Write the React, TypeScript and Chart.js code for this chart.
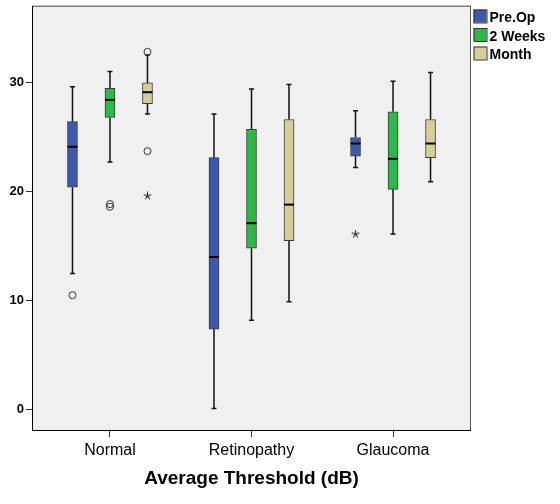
import React, { useEffect, useRef } from 'react';
import { Chart, registerables } from 'chart.js';

Chart.register(...registerables);

// ---- data ----
const categories = ['Normal', 'Retinopathy', 'Glaucoma'];
const seriesNames = ['Pre.Op', '2 Weeks', 'Month'];
const seriesColors = ['#3E58AC', '#2EB848', '#D4CF9A'];
const yTicks = [0, 10, 20, 30];
const xTitle = 'Average Threshold (dB)';

const preOpMin = [12.5, 0.13, 22.2];
const preOpQ1 = [20.4, 7.4, 23.25];
const preOpMedian = [24.1, 14.0, 24.4];
const preOpQ3 = [26.4, 23.1, 24.95];
const preOpMax = [29.6, 27.1, 27.4];

const weeksMin = [22.7, 8.2, 16.1];
const weeksQ1 = [26.8, 14.8, 20.2];
const weeksMedian = [28.4, 17.1, 23.0];
const weeksQ3 = [29.45, 25.7, 27.3];
const weeksMax = [31.0, 29.4, 30.1];

const monthMin = [27.1, 9.9, 20.9];
const monthQ1 = [28.05, 15.5, 23.1];
const monthMedian = [29.1, 18.8, 24.4];
const monthQ3 = [29.95, 26.6, 26.6];
const monthMax = [32.5, 29.8, 30.9];

// outliers: [seriesIndex, categoryIndex, value]
const circleOutliers: [number, number, number][] = [
  [0, 0, 10.5],
  [1, 0, 18.6],
  [1, 0, 18.85],
  [2, 0, 32.8],
  [2, 0, 23.7],
];
const starOutliers: [number, number, number][] = [
  [2, 0, 19.6],
  [0, 2, 16.1],
];

const stats = [
  { min: preOpMin, q1: preOpQ1, med: preOpMedian, q3: preOpQ3, max: preOpMax },
  { min: weeksMin, q1: weeksQ1, med: weeksMedian, q3: weeksQ3, max: weeksMax },
  { min: monthMin, q1: monthQ1, med: monthMedian, q3: monthQ3, max: monthMax },
];

// ---- layout constants ----
const seriesOffsets = [-0.265, 0, 0.265];
const FONT = 'Arial, "Liberation Sans", sans-serif';
const PLOT_BG = '#F0F0F0';

function makeStar(): HTMLCanvasElement {
  const c = document.createElement('canvas');
  c.width = 9;
  c.height = 9;
  const g = c.getContext('2d')!;
  g.strokeStyle = '#222';
  g.lineWidth = 1.1;
  g.beginPath();
  for (let k = 0; k < 5; k++) {
    const a = (-90 + k * 72) * Math.PI / 180;
    g.moveTo(4.5, 4.5);
    g.lineTo(4.5 + 4 * Math.cos(a), 4.5 + 4 * Math.sin(a));
  }
  g.stroke();
  return c;
}

const boxPlugin = {
  id: 'boxParts',
  beforeDraw(chart: any) {
    const { ctx, chartArea: a } = chart;
    ctx.save();
    ctx.fillStyle = PLOT_BG;
    ctx.fillRect(a.left, a.top, a.right - a.left, a.bottom - a.top);
    ctx.restore();
  },
  beforeDatasetsDraw(chart: any) {
    const { ctx, scales } = chart;
    const xs = scales.x, ys = scales.y;
    ctx.save();
    ctx.strokeStyle = '#111';
    ctx.lineWidth = 1.5;
    stats.forEach((s, si) => {
      categories.forEach((_, ci) => {
        const px = xs.getPixelForValue(ci + seriesOffsets[si]);
        const yMin = ys.getPixelForValue(s.min[ci]);
        const yQ1 = ys.getPixelForValue(s.q1[ci]);
        const yQ3 = ys.getPixelForValue(s.q3[ci]);
        const yMax = ys.getPixelForValue(s.max[ci]);
        ctx.beginPath();
        ctx.moveTo(px, yQ3);
        ctx.lineTo(px, yMax);
        ctx.moveTo(px, yQ1);
        ctx.lineTo(px, yMin);
        ctx.moveTo(px - 2.5, yMax);
        ctx.lineTo(px + 2.5, yMax);
        ctx.moveTo(px - 2.5, yMin);
        ctx.lineTo(px + 2.5, yMin);
        ctx.stroke();
      });
    });
    ctx.restore();
  },
  afterDatasetsDraw(chart: any) {
    const { ctx, scales } = chart;
    const xs = scales.x, ys = scales.y;
    ctx.save();
    ctx.strokeStyle = '#000';
    ctx.lineWidth = 2;
    stats.forEach((s, si) => {
      categories.forEach((_, ci) => {
        const px = xs.getPixelForValue(ci + seriesOffsets[si]);
        const yMed = ys.getPixelForValue(s.med[ci]);
        ctx.beginPath();
        ctx.moveTo(px - 5, yMed);
        ctx.lineTo(px + 5, yMed);
        ctx.stroke();
      });
    });
    ctx.restore();
  },
  afterDraw(chart: any) {
    const { ctx, chartArea: a } = chart;
    ctx.save();
    // frame
    ctx.strokeStyle = '#808080';
    ctx.lineWidth = 1.5;
    ctx.beginPath();
    ctx.moveTo(a.left, a.top + 0.25);
    ctx.lineTo(a.right, a.top + 0.25);
    ctx.stroke();
    ctx.strokeStyle = '#555';
    ctx.lineWidth = 1;
    ctx.beginPath();
    ctx.moveTo(a.right - 0.5, a.top);
    ctx.lineTo(a.right - 0.5, a.bottom + 0.5);
    ctx.stroke();
    ctx.strokeStyle = '#000';
    ctx.lineWidth = 1;
    ctx.beginPath();
    ctx.moveTo(a.left + 0.5, a.top);
    ctx.lineTo(a.left + 0.5, a.bottom + 0.5);
    ctx.lineTo(a.right, a.bottom + 0.5);
    ctx.stroke();
    // legend
    const lx = a.right + 2.5;
    ctx.font = `bold 14px ${FONT}`;
    ctx.textBaseline = 'alphabetic';
    ctx.textAlign = 'left';
    seriesNames.forEach((name, i) => {
      const y0 = 9.5 + i * 18.5;
      ctx.fillStyle = seriesColors[i];
      ctx.fillRect(lx, y0, 13, 13);
      ctx.strokeStyle = '#333';
      ctx.lineWidth = 1;
      ctx.strokeRect(lx + 0.5, y0 + 0.5, 13, 13);
      ctx.fillStyle = '#000';
      ctx.fillText(name, lx + 16, y0 + 12.5);
    });
    ctx.restore();
  },
};

export default function App() {
  const canvasRef = useRef<HTMLCanvasElement | null>(null);

  useEffect(() => {
    if (!canvasRef.current) return;
    const star = makeStar();

    const barSets = stats.map((s, si) => ({
      type: 'bar' as const,
      label: seriesNames[si],
      data: categories.map((_, ci) => ({ x: ci + seriesOffsets[si], y: [s.q1[ci], s.q3[ci]] })),
      backgroundColor: seriesColors[si],
      borderColor: '#3a3a3a',
      borderWidth: 1,
      borderSkipped: false,
      barThickness: 10,
      grouped: false,
      order: 2,
    }));

    const circleSet = {
      type: 'scatter' as const,
      label: 'outliers',
      data: circleOutliers.map(([si, ci, v]) => ({ x: ci + seriesOffsets[si], y: v })),
      pointStyle: 'circle',
      pointRadius: 3.5,
      borderColor: '#333',
      borderWidth: 1,
      backgroundColor: 'rgba(0,0,0,0)',
      order: 0,
    };
    const starSet = {
      type: 'scatter' as const,
      label: 'extremes',
      data: starOutliers.map(([si, ci, v]) => ({ x: ci + seriesOffsets[si], y: v })),
      pointStyle: star,
      pointRadius: 4.5,
      order: 0,
    };

    const chart = new Chart(canvasRef.current, {
      type: 'bar',
      data: { datasets: [...barSets, circleSet, starSet] as any },
      options: {
        responsive: false,
        animation: false,
        events: [],
        layout: { padding: { top: 6, right: 89, left: 0, bottom: 0 } },
        plugins: { legend: { display: false }, tooltip: { enabled: false } },
        scales: {
          x: {
            type: 'linear',
            offset: false,
            min: -0.551,
            max: 2.551,
            afterBuildTicks: (s: any) => {
              s.ticks = categories.map((_, i) => ({ value: i }));
            },
            afterFit: (s: any) => {
              s.height = 74;
              s.paddingLeft = 0;
              s.paddingRight = 0;
            },
            ticks: {
              callback: (v: any) => categories[Math.round(Number(v))] ?? '',
              font: { family: FONT, size: 16 },
              color: '#000',
              padding: 4,
              autoSkip: false,
              maxRotation: 0,
            },
            grid: { display: true, offset: false, drawOnChartArea: false, drawTicks: true, tickLength: 7, color: '#333' },
            border: { display: false },
            title: {
              display: true,
              text: xTitle,
              font: { family: FONT, size: 19, weight: 'bold' },
              color: '#000',
              padding: { top: 0, bottom: 14 },
            },
          } as any,
          y: {
            type: 'linear',
            min: -1.85,
            max: 37.0,
            afterBuildTicks: (s: any) => {
              s.ticks = yTicks.map((v) => ({ value: v }));
            },
            afterFit: (s: any) => {
              s.width = 32;
              s.paddingTop = 0;
              s.paddingBottom = 0;
            },
            ticks: {
              font: { family: FONT, size: 13, weight: 'bold' },
              color: '#000',
              padding: 2,
            },
            grid: { display: true, drawOnChartArea: false, drawTicks: true, tickLength: 6, color: '#333' },
            border: { display: false },
          } as any,
        },
      },
      plugins: [boxPlugin],
    });
    return () => chart.destroy();
  }, []);

  return (
    <div style={{ position: 'absolute', left: 0, top: 0, width: 560, height: 504, background: '#fff' }}>
      <canvas ref={canvasRef} width={560} height={504} />
    </div>
  );
}
